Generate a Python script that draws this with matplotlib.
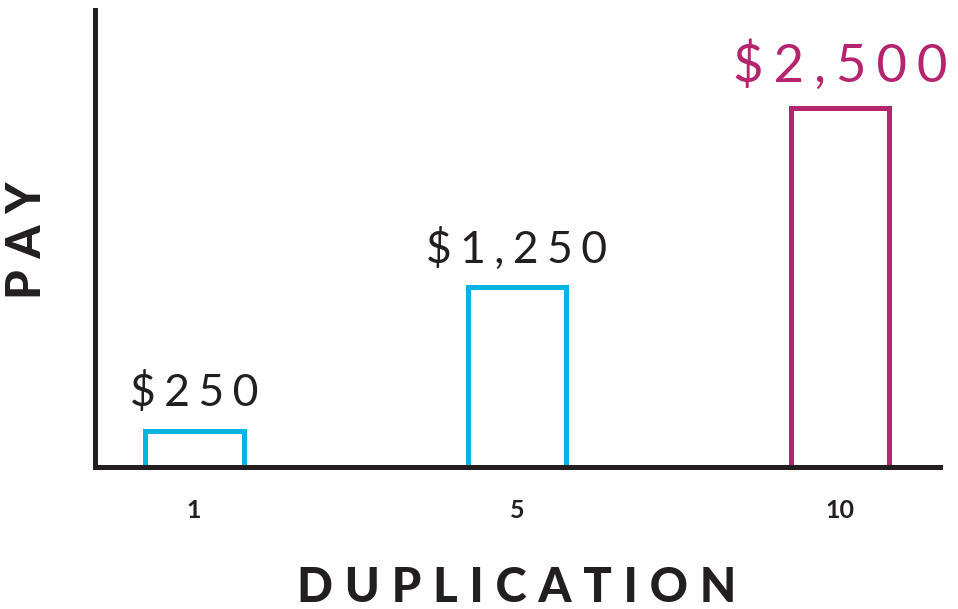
import matplotlib.pyplot as plt

categories = ["1", "5", "10"]
pay = [250, 1250, 2500]
pay_labels = ["$250", "$1,250", "$2,500"]

CYAN = "#00B4E4"
MAGENTA = "#B5246E"
INK = "#231F20"
FONTS = ["Lato", "DejaVu Sans"]


def spaced(s, gap="\u2009"):
    return gap.join(s)


fig = plt.figure(figsize=(9.58, 6.09), dpi=100)
ax = fig.add_axes([95 / 958, 142 / 609, 845 / 958, 457 / 609])

x = list(range(len(categories)))
edge = [CYAN, CYAN, MAGENTA]
ax.bar(x, pay, width=0.306, facecolor="white", edgecolor=edge, linewidth=3.6)

for i, (v, lab) in enumerate(zip(pay, pay_labels)):
    big = i == len(pay) - 1
    ax.annotate(spaced(lab, "\u2009\u200a"), (i, v), xytext=(0, 12),
                textcoords="offset points", ha="center", va="bottom",
                fontsize=38 if big else 32, fontweight="normal",
                color=MAGENTA if big else INK, family=FONTS)

ax.set_xlim(-0.307, 2.31)
ax.set_ylim(0, 3182)
ax.set_xticks(x)
ax.set_xticklabels(categories, fontsize=18, fontweight="bold", color=INK,
                   family=FONTS)
ax.tick_params(axis="x", length=0, pad=23)
ax.set_yticks([])

for side in ["top", "right"]:
    ax.spines[side].set_visible(False)
for side in ["left", "bottom"]:
    ax.spines[side].set_linewidth(3.6)
    ax.spines[side].set_color(INK)

fig.text(27 / 958, 1 - 240 / 609, spaced("PAY", "\u2009\u2009"), rotation=90,
         ha="center", va="center", fontsize=34, fontweight="black", color=INK,
         family=FONTS)
fig.text(517 / 958, 1 - 588 / 609, spaced("DUPLICATION", "\u2009\u2009"),
         ha="center", va="center", fontsize=34, fontweight="black", color=INK,
         family=FONTS)

fig.savefig("out.png", dpi=100)
